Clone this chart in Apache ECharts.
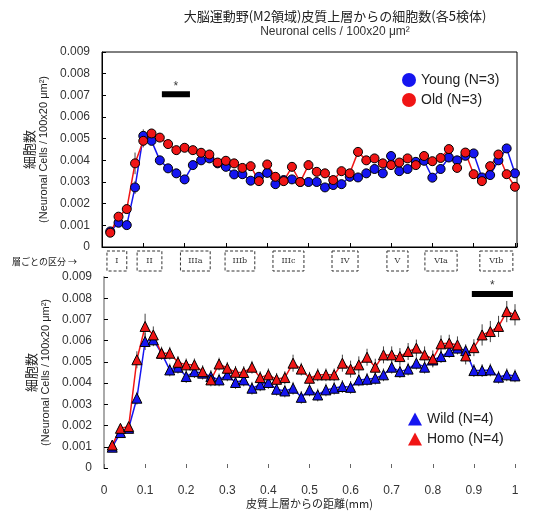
<!DOCTYPE html>
<html>
    <head>
        <meta charset="utf-8">
        <script src="https://cdn.jsdelivr.net/npm/echarts@6/dist/echarts.min.js"></script>
    </head>
    <body>
        <style>
            html, body, #main {
                width: 100%;
                height: 100%;
                margin: 0;
                background: #fff;
            }
        </style>
        <div id="main"></div>
        <script>

            // distance from upper cortex surface (mm)
            var distance = [
                0.02, 0.04, 0.06, 0.08, 0.10, 0.12, 0.14, 0.16, 0.18, 0.20,
                0.22, 0.24, 0.26, 0.28, 0.30, 0.32, 0.34, 0.36, 0.38, 0.40,
                0.42, 0.44, 0.46, 0.48, 0.50, 0.52, 0.54, 0.56, 0.58, 0.60,
                0.62, 0.64, 0.66, 0.68, 0.70, 0.72, 0.74, 0.76, 0.78, 0.80,
                0.82, 0.84, 0.86, 0.88, 0.90, 0.92, 0.94, 0.96, 0.98, 1.00
            ];

            var young = [
                0.00072, 0.00112, 0.00101, 0.00275, 0.00513, 0.00490, 0.00400, 0.00363, 0.00340, 0.00312,
                0.00378, 0.00400, 0.00409, 0.00386, 0.00370, 0.00335, 0.00336, 0.00306, 0.00324, 0.00342,
                0.00290, 0.00309, 0.00312, 0.00300, 0.00300, 0.00300, 0.00275, 0.00286, 0.00290, 0.00324,
                0.00321, 0.00340, 0.00360, 0.00340, 0.00420, 0.00350, 0.00360, 0.00393, 0.00398, 0.00320,
                0.00360, 0.00413, 0.00400, 0.00421, 0.00432, 0.00321, 0.00332, 0.00400, 0.00455, 0.00340
            ];
            var youngErr = [
                0.0001, 0.0001, 0.0001, 0.0003, 0.0003, 0.0002, 0.0002, 0.0002, 0.0002, 0.0002,
                0.0002, 0.0002, 0.0002, 0.0002, 0.0002, 0.0002, 0.0002, 0.0002, 0.0002, 0.0002,
                0.0002, 0.0002, 0.0002, 0.0002, 0.0002, 0.0002, 0.0002, 0.0002, 0.0002, 0.0002,
                0.0002, 0.0002, 0.0002, 0.0002, 0.0002, 0.0002, 0.0002, 0.0002, 0.0002, 0.0002,
                0.0002, 0.0002, 0.0002, 0.0002, 0.0002, 0.0002, 0.0002, 0.0002, 0.0002, 0.0002
            ];

            var old = [
                0.00066, 0.00140, 0.00175, 0.00386, 0.00490, 0.00524, 0.00505, 0.00475, 0.00447, 0.00458,
                0.00447, 0.00435, 0.00427, 0.00390, 0.00398, 0.00386, 0.00365, 0.00373, 0.00304, 0.00381,
                0.00324, 0.00304, 0.00370, 0.00300, 0.00378, 0.00347, 0.00340, 0.00309, 0.00350, 0.00340,
                0.00439, 0.00400, 0.00409, 0.00386, 0.00378, 0.00390, 0.00409, 0.00378, 0.00420, 0.00396,
                0.00411, 0.00452, 0.00365, 0.00436, 0.00336, 0.00304, 0.00373, 0.00427, 0.00336, 0.00278
            ];
            var oldErr = [
                0.0001, 0.0001, 0.0002, 0.0005, 0.0003, 0.0002, 0.0002, 0.0002, 0.0002, 0.0002,
                0.0002, 0.0002, 0.0002, 0.0002, 0.0002, 0.0002, 0.0002, 0.0002, 0.0002, 0.0002,
                0.0002, 0.0002, 0.0002, 0.0002, 0.0002, 0.0002, 0.0002, 0.0002, 0.0002, 0.0002,
                0.0002, 0.0002, 0.0002, 0.0002, 0.0002, 0.0002, 0.0002, 0.0002, 0.0002, 0.0002,
                0.0002, 0.0002, 0.0002, 0.0002, 0.0002, 0.0002, 0.0002, 0.0002, 0.0002, 0.0002
            ];

            var wild = [
                0.00098, 0.00167, 0.00187, 0.00329, 0.00596, 0.00604, 0.00541, 0.00462, 0.00475, 0.00431,
                0.00454, 0.00447, 0.00431, 0.00415, 0.00439, 0.00403, 0.00415, 0.00376, 0.00392, 0.00403,
                0.00371, 0.00363, 0.00376, 0.00333, 0.00368, 0.00344, 0.00368, 0.00376, 0.00384, 0.00380,
                0.00415, 0.00418, 0.00423, 0.00439, 0.00475, 0.00454, 0.00466, 0.00494, 0.00475, 0.00509,
                0.00525, 0.00549, 0.00565, 0.00553, 0.00459, 0.00459, 0.00462, 0.00428, 0.00439, 0.00434
            ];
            var wildErr = [
                0.0001, 0.0001, 0.0001, 0.0003, 0.0004, 0.0003, 0.0003, 0.0003, 0.0003, 0.0003,
                0.0003, 0.0003, 0.0003, 0.0003, 0.0003, 0.0003, 0.0003, 0.0003, 0.0003, 0.0003,
                0.0003, 0.0003, 0.0003, 0.0003, 0.0003, 0.0003, 0.0003, 0.0003, 0.0003, 0.0003,
                0.0003, 0.0003, 0.0003, 0.0003, 0.0003, 0.0003, 0.0003, 0.0003, 0.0003, 0.0003,
                0.0003, 0.0003, 0.0003, 0.0003, 0.0003, 0.0003, 0.0003, 0.0003, 0.0003, 0.0003
            ];

            var homo = [
                0.00108, 0.00187, 0.00195, 0.00510, 0.00667, 0.00627, 0.00541, 0.00541, 0.00498, 0.00486,
                0.00486, 0.00454, 0.00415, 0.00490, 0.00470, 0.00451, 0.00450, 0.00475, 0.00426, 0.00439,
                0.00418, 0.00426, 0.00494, 0.00466, 0.00423, 0.00439, 0.00439, 0.00439, 0.00494, 0.00466,
                0.00486, 0.00522, 0.00475, 0.00533, 0.00533, 0.00525, 0.00549, 0.00565, 0.00533, 0.00514,
                0.00585, 0.00588, 0.00580, 0.00528, 0.00567, 0.00627, 0.00643, 0.00667, 0.00737, 0.00722
            ];
            var homoErr = [
                0.0001, 0.0001, 0.0002, 0.0004, 0.0006, 0.0004, 0.0003, 0.0003, 0.0003, 0.0003,
                0.0003, 0.0003, 0.0003, 0.0003, 0.0003, 0.0003, 0.0003, 0.0003, 0.0003, 0.0003,
                0.0003, 0.0003, 0.0004, 0.0003, 0.0003, 0.0003, 0.0003, 0.0003, 0.0004, 0.0004,
                0.0004, 0.0004, 0.0004, 0.0004, 0.0004, 0.0004, 0.0004, 0.0004, 0.0004, 0.0004,
                0.0004, 0.0004, 0.0004, 0.0004, 0.0004, 0.0005, 0.0005, 0.0005, 0.0005, 0.0005
            ];

            // cortical layer boxes (start mm, end mm, label)
            var layers = [
                [0.012, 0.060, 'I'],
                [0.085, 0.145, 'II'],
                [0.190, 0.262, 'IIIa'],
                [0.298, 0.370, 'IIIb'],
                [0.414, 0.489, 'IIIc'],
                [0.557, 0.620, 'IV'],
                [0.690, 0.741, 'V'],
                [0.782, 0.860, 'VIa'],
                [0.915, 0.995, 'VIb']
            ];

            // significance bars (start mm, end mm, height)
            var sigTop = [0.145, 0.213, 0.00705];
            var sigBottom = [0.895, 0.995, 0.0082];

            var chart = echarts.init(document.getElementById('main'));

            function pairs(ys) {
                return distance.map(function (x, i) { return [x, ys[i]]; });
            }
            function errData(ys, es) {
                return distance.map(function (x, i) { return [x, ys[i], es[i]]; });
            }
            function renderErr(params, api) {
                var x = api.value(0), y = api.value(1), e = api.value(2);
                var p1 = api.coord([x, y + e]);
                var p2 = api.coord([x, y - e]);
                return {
                    type: 'line',
                    shape: {x1: p1[0], y1: p1[1], x2: p2[0], y2: p2[1]},
                    style: {stroke: '#444', lineWidth: 1}
                };
            }
            function errSeries(ys, es, idx) {
                return {
                    type: 'custom',
                    xAxisIndex: idx,
                    yAxisIndex: idx,
                    silent: true,
                    z: 1,
                    renderItem: renderErr,
                    data: errData(ys, es)
                };
            }
            function lineSeries(name, ys, color, symbol, idx) {
                return {
                    name: name,
                    type: 'line',
                    xAxisIndex: idx,
                    yAxisIndex: idx,
                    z: 3,
                    data: pairs(ys),
                    symbol: symbol,
                    symbolSize: symbol === 'circle' ? 9 : 10,
                    lineStyle: {color: color, width: 1.5},
                    itemStyle: {color: color, borderColor: '#000', borderWidth: 1},
                    emphasis: {disabled: true}
                };
            }
            function sigSeries(s, idx) {
                return [{
                    type: 'line',
                    xAxisIndex: idx,
                    yAxisIndex: idx,
                    silent: true,
                    symbol: 'none',
                    lineStyle: {color: '#000', width: 6},
                    data: [[s[0], s[2]], [s[1], s[2]]]
                }, {
                    type: 'scatter',
                    xAxisIndex: idx,
                    yAxisIndex: idx,
                    silent: true,
                    symbolSize: 0,
                    data: [[(s[0] + s[1]) / 2, s[2]]],
                    label: {
                        show: true, formatter: '*', position: 'top', distance: 2,
                        fontSize: 12, color: '#000'
                    }
                }];
            }

            var yAxisBase = {
                type: 'value',
                min: 0,
                max: 0.009,
                interval: 0.001,
                splitLine: {show: false},
                axisTick: {inside: true, length: 4, lineStyle: {color: '#000'}},
                axisLabel: {fontSize: 12, color: '#333', margin: 12, fontFamily: 'Liberation Sans'},
                nameLocation: 'middle',
                nameRotate: 90,
                nameGap: 50
            };

            chart.setOption({
                animation: false,
                textStyle: {fontFamily: 'Liberation Sans, Noto Sans CJK JP'},
                title: {
                    text: '大脳運動野(M2領域)皮質上層からの細胞数(各5検体)',
                    subtext: 'Neuronal cells / 100x20 μm²',
                    left: 330,
                    textAlign: 'center',
                    top: 5,
                    itemGap: 3,
                    textStyle: {fontSize: 13, fontWeight: 'normal', color: '#222', fontFamily: 'Noto Sans CJK JP'},
                    subtextStyle: {fontSize: 12, color: '#333'}
                },
                legend: [{
                    data: ['Young (N=3)', 'Old (N=3)'],
                    orient: 'vertical',
                    left: 397,
                    top: 68,
                    icon: 'circle',
                    itemWidth: 14,
                    itemHeight: 14,
                    itemGap: 6,
                    itemStyle: {borderWidth: 0},
                    textStyle: {fontSize: 14, color: '#222'}
                }, {
                    data: ['Wild (N=4)', 'Homo (N=4)'],
                    orient: 'vertical',
                    left: 403,
                    top: 407,
                    icon: 'triangle',
                    itemWidth: 14,
                    itemHeight: 13,
                    itemGap: 6,
                    itemStyle: {borderWidth: 0},
                    textStyle: {fontSize: 14, color: '#222'}
                }],
                grid: [
                    {left: 102, top: 52, width: 415, height: 195, show: true, borderColor: '#000', borderWidth: 1},
                    {left: 104, top: 277, width: 411, height: 191}
                ],
                xAxis: [{
                    type: 'value',
                    gridIndex: 0,
                    min: 0,
                    max: 1.005,
                    interval: 0.1,
                    splitLine: {show: false},
                    axisLine: {lineStyle: {color: '#000'}},
                    axisTick: {inside: true, length: 4, lineStyle: {color: '#000'}},
                    axisLabel: {show: false}
                }, {
                    type: 'value',
                    gridIndex: 1,
                    min: 0,
                    max: 1,
                    interval: 0.1,
                    splitLine: {show: false},
                    axisLine: {show: false},
                    axisTick: {inside: true, length: 4, lineStyle: {color: '#666'}},
                    axisLabel: {fontSize: 12, color: '#333', margin: 17, fontFamily: 'Liberation Sans'},
                    name: '皮質上層からの距離(mm)',
                    nameLocation: 'middle',
                    nameGap: 29,
                    nameTextStyle: {fontSize: 11, color: '#222', fontFamily: 'Noto Sans CJK JP'}
                }],
                yAxis: [
                    Object.assign({}, yAxisBase, {
                        gridIndex: 0,
                        axisLine: {lineStyle: {color: '#000'}},
                        name: '{a|細胞数}\n{b|(Neuronal Cells / 100x20 μm²)}',
                        nameTextStyle: {
                            rich: {
                                a: {fontSize: 13, lineHeight: 16, color: '#222', fontFamily: 'Noto Sans CJK JP'},
                                b: {fontSize: 11, lineHeight: 14, color: '#222'}
                            }
                        }
                    }),
                    Object.assign({}, yAxisBase, {
                        gridIndex: 1,
                        axisLine: {lineStyle: {color: '#aaa', width: 2}},
                        name: '{a|細胞数}\n{b|(Neuronal Cells / 100x20 μm²)}',
                        nameTextStyle: {
                            rich: {
                                a: {fontSize: 13, lineHeight: 16, color: '#222', fontFamily: 'Noto Sans CJK JP'},
                                b: {fontSize: 11, lineHeight: 14, color: '#222'}
                            }
                        }
                    })
                ],
                graphic: [{
                    type: 'text',
                    left: 12,
                    top: 257,
                    style: {text: '層ごとの区分 →', fontSize: 9, fill: '#222', fontFamily: 'Noto Sans CJK JP'}
                }],
                series: [
                    errSeries(young, youngErr, 0),
                    errSeries(old, oldErr, 0),
                    lineSeries('Young (N=3)', young, '#1515f0', 'circle', 0),
                    lineSeries('Old (N=3)', old, '#f01515', 'circle', 0),
                    errSeries(wild, wildErr, 1),
                    errSeries(homo, homoErr, 1),
                    lineSeries('Wild (N=4)', wild, '#1515f0', 'triangle', 1),
                    lineSeries('Homo (N=4)', homo, '#f01515', 'triangle', 1),
                    {
                        type: 'custom',
                        xAxisIndex: 0,
                        yAxisIndex: 0,
                        silent: true,
                        clip: false,
                        data: layers,
                        renderItem: function (params, api) {
                            var a = api.coord([api.value(0), 0]);
                            var b = api.coord([api.value(1), 0]);
                            var w = b[0] - a[0];
                            return {
                                type: 'group',
                                children: [{
                                    type: 'rect',
                                    shape: {x: a[0], y: a[1] + 4, width: w, height: 20},
                                    style: {fill: 'none', stroke: '#333', lineWidth: 1, lineDash: [3, 2]}
                                }, {
                                    type: 'text',
                                    style: {
                                        text: api.value(2),
                                        x: a[0] + w / 2,
                                        y: a[1] + 14,
                                        align: 'center',
                                        verticalAlign: 'middle',
                                        fontSize: 8,
                                        fontFamily: 'DejaVu Serif',
                                        fill: '#333'
                                    }
                                }]
                            };
                        }
                    }
                ].concat(sigSeries(sigTop, 0), sigSeries(sigBottom, 1))
            });

        </script>
    </body>
</html>
